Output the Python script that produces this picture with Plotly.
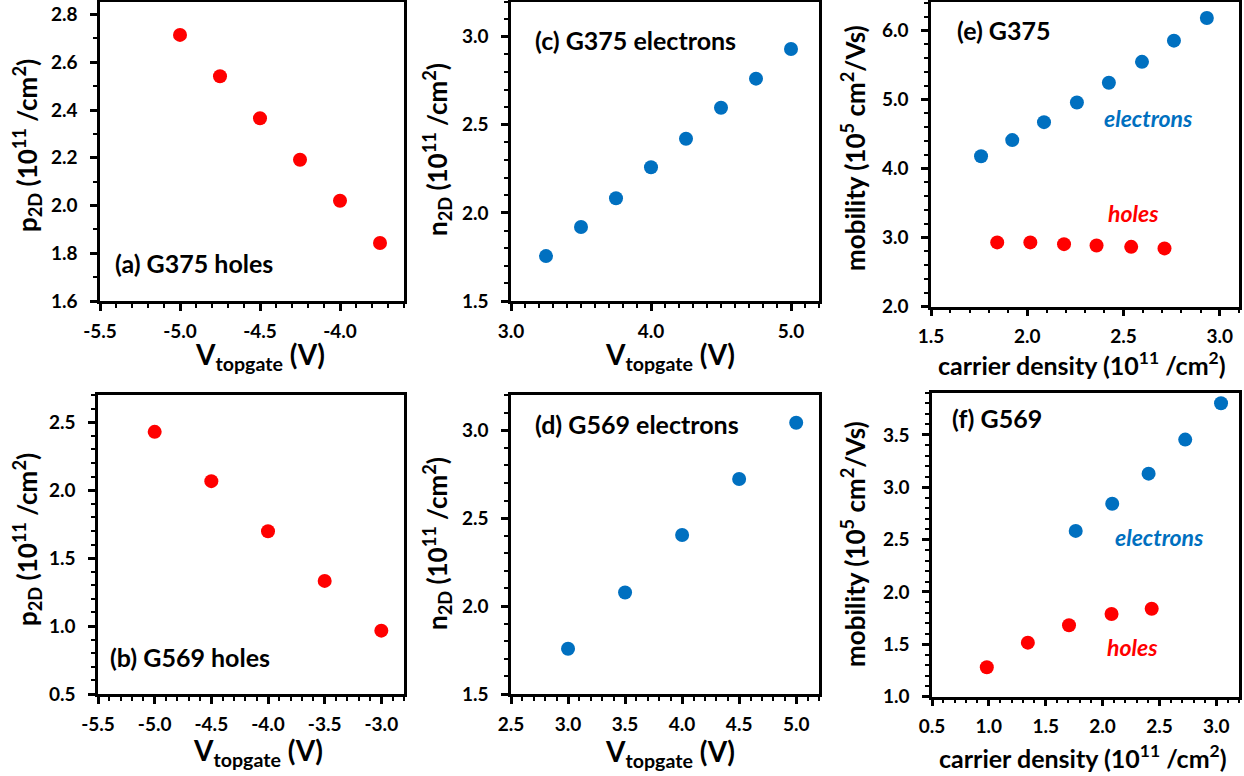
import plotly.graph_objects as go

# ---------------- data ----------------
# (a) G375 holes
a_v = [-5.0, -4.75, -4.5, -4.25, -4.0, -3.75]
a_p = [2.715, 2.542, 2.366, 2.192, 2.020, 1.843]
# (b) G569 holes
b_v = [-5.0, -4.5, -4.0, -3.5, -3.0]
b_p = [2.429, 2.066, 1.698, 1.332, 0.966]
# (c) G375 electrons
c_v = [3.25, 3.5, 3.75, 4.0, 4.25, 4.5, 4.75, 5.0]
c_n = [1.755, 1.920, 2.083, 2.259, 2.421, 2.597, 2.762, 2.930]
# (d) G569 electrons
d_v = [3.0, 3.5, 4.0, 4.5, 5.0]
d_n = [1.757, 2.077, 2.404, 2.722, 3.042]
# (e) G375 mobility
e_el_n = [1.760, 1.922, 2.087, 2.258, 2.424, 2.596, 2.762, 2.933]
e_el_mu = [4.178, 4.413, 4.673, 4.958, 5.243, 5.546, 5.853, 6.182]
e_h_n = [1.844, 2.016, 2.191, 2.360, 2.540, 2.713]
e_h_mu = [2.931, 2.931, 2.906, 2.887, 2.867, 2.844]
# (f) G569 mobility
f_el_n = [1.764, 2.085, 2.405, 2.727, 3.042]
f_el_mu = [2.583, 2.843, 3.130, 3.455, 3.802]
f_h_n = [0.982, 1.343, 1.705, 2.079, 2.432]
f_h_mu = [1.281, 1.516, 1.682, 1.790, 1.840]

# tick labels
a_xt = ["-5.5", "-5.0", "-4.5", "-4.0"]
a_yt = ["1.6", "1.8", "2.0", "2.2", "2.4", "2.6", "2.8"]
b_xt = ["-5.5", "-5.0", "-4.5", "-4.0", "-3.5", "-3.0"]
b_yt = ["0.5", "1.0", "1.5", "2.0", "2.5"]
c_xt = ["3.0", "4.0", "5.0"]
c_yt = ["1.5", "2.0", "2.5", "3.0"]
d_xt = ["2.5", "3.0", "3.5", "4.0", "4.5", "5.0"]
d_yt = ["1.5", "2.0", "2.5", "3.0"]
e_xt = ["1.5", "2.0", "2.5", "3.0"]
e_yt = ["2.0", "3.0", "4.0", "5.0", "6.0"]
f_xt = ["0.5", "1.0", "1.5", "2.0", "2.5", "3.0"]
f_yt = ["1.0", "1.5", "2.0", "2.5", "3.0", "3.5"]

RED = "#FF0000"
BLUE = "#0070C0"
FONT = "Lato"
WEIGHT = "bold"
W, H = 1244, 776

fig = go.Figure()

def add(x, y, color, ax):
    fig.add_trace(go.Scatter(x=x, y=y, mode="markers",
                             marker=dict(color=color, size=14),
                             xaxis="x" + ax, yaxis="y" + ax, showlegend=False))

add(a_v, a_p, RED, "")
add(c_v, c_n, BLUE, "2")
add(e_el_n, e_el_mu, BLUE, "3")
add(e_h_n, e_h_mu, RED, "3")
add(b_v, b_p, RED, "4")
add(d_v, d_n, BLUE, "5")
add(f_el_n, f_el_mu, BLUE, "6")
add(f_h_n, f_h_mu, RED, "6")


def px_x(p):
    return p / W


def px_y(p):
    return 1 - p / H


def axis(domain, rng, ticktext, minor_dt, anchor, standoff):
    vals = [float(t) for t in ticktext]
    return dict(domain=domain, range=rng, anchor=anchor, automargin=False,
                tickmode="array", tickvals=vals, ticktext=ticktext,
                showline=True, linewidth=2.5, linecolor="black", mirror=True,
                ticks="outside", ticklen=7, tickwidth=2.5, tickcolor="black",
                ticklabelstandoff=standoff,
                minor=dict(dtick=minor_dt, tick0=0, ticks="outside", ticklen=4,
                           tickwidth=2, tickcolor="black"),
                showgrid=False, zeroline=False,
                tickfont=dict(family=FONT, size=19, color="black", weight=WEIGHT))

row1 = [px_y(301), px_y(1.5)]
row1e = [px_y(306.7), px_y(1.5)]
row2 = [px_y(694), px_y(395)]
row2f = [px_y(696.7), px_y(393)]

XS, YS = 4, 9
layout = dict(
    xaxis=axis([px_x(100), px_x(404)], [-5.5, -3.6], a_xt, 0.1, "y", XS),
    yaxis=axis(row1, [1.6, 2.855], a_yt, 0.1, "x", YS),
    xaxis2=axis([px_x(511), px_x(819)], [3.0, 5.2], c_xt, 0.1, "y2", XS),
    yaxis2=axis(row1, [1.5, 3.2], c_yt, 0.1, "x2", YS),
    xaxis3=axis([px_x(931), px_x(1239)], [1.5, 3.1], e_xt, 0.1, "y3", XS),
    yaxis3=axis(row1e, [2.0, 6.42], e_yt, 0.2, "x3", YS),
    xaxis4=axis([px_x(98), px_x(404)], [-5.5, -2.8], b_xt, 0.1, "y4", XS),
    yaxis4=axis(row2, [0.5, 2.7], b_yt, 0.1, "x4", YS),
    xaxis5=axis([px_x(511), px_x(819)], [2.5, 5.2], d_xt, 0.1, "y5", XS),
    yaxis5=axis(row2, [1.5, 3.2], d_yt, 0.1, "x5", YS),
    xaxis6=axis([px_x(932), px_x(1239)], [0.5, 3.2], f_xt, 0.1, "y6", XS),
    yaxis6=axis(row2f, [1.0, 3.9], f_yt, 0.1, "x6", YS),
)
fig.update_layout(**layout)

anns = []


def text(s, x, y, size=22, color="black", italic=False, angle=0, xanchor="center"):
    anns.append(dict(text=s, x=px_x(x), y=px_y(y), xref="paper", yref="paper",
                     showarrow=False, textangle=angle, xanchor=xanchor, yanchor="middle",
                     font=dict(family=FONT, size=size, color=color, weight=WEIGHT,
                               style="italic" if italic else "normal")))


vt = "V<sub>topgate</sub> (V)"
cd = "carrier density (10<sup>11</sup> /cm<sup>2</sup>)"
p2d = "p<sub>2D</sub> (10<sup>11</sup> /cm<sup>2</sup>)"
n2d = "n<sub>2D</sub> (10<sup>11</sup> /cm<sup>2</sup>)"
mob = "mobility (10<sup>5</sup> cm<sup>2</sup>/Vs)"

# x titles
text(vt, 260, 356, 28)
text(vt, 670, 356, 28)
text(cd, 1082, 363, 25)
text(vt, 258, 752, 28)
text(vt, 670, 753, 28)
text(cd, 1083, 756, 25)
# y titles
text(p2d, 27, 146, 26, angle=-90)
text(n2d, 437, 150, 26, angle=-90)
text(mob, 853, 148, 26, angle=-90)
text(p2d, 27, 540, 26, angle=-90)
text(n2d, 437, 544, 26, angle=-90)
text(mob, 853, 544, 26, angle=-90)
# panel labels
text("(a) G375 holes", 113, 263, 25, xanchor="left")
text("(b) G569 holes", 108, 657, 25, xanchor="left")
text("(c) G375 electrons", 533, 40, 25, xanchor="left")
text("(d) G569 electrons", 533, 424, 25, xanchor="left")
text("(e) G375", 955, 30, 25, xanchor="left")
text("(f) G569", 950, 418, 25, xanchor="left")
text("electrons", 1102, 118, 23, BLUE, True, xanchor="left")
text("holes", 1106, 213, 23, RED, True, xanchor="left")
text("electrons", 1113, 537, 23, BLUE, True, xanchor="left")
text("holes", 1105, 647, 23, RED, True, xanchor="left")

fig.update_layout(annotations=anns, width=W, height=H,
                  margin=dict(l=0, r=0, t=0, b=0),
                  paper_bgcolor="white", plot_bgcolor="white")

fig.write_html("out.html")
